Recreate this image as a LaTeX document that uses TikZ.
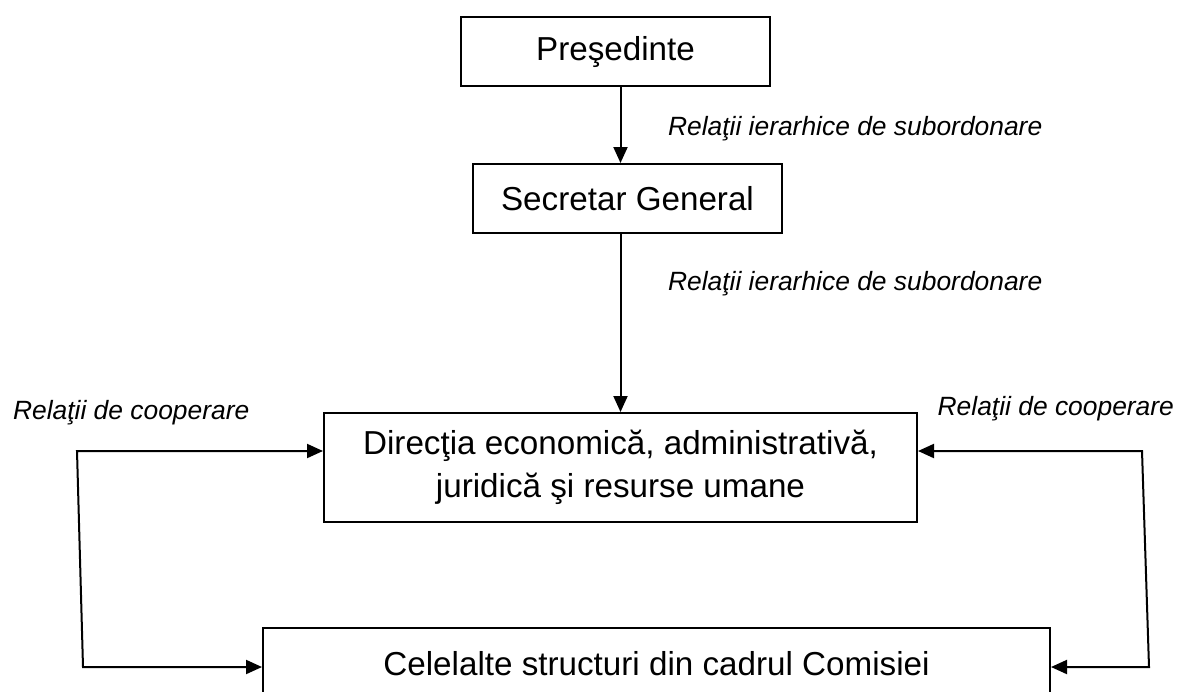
\documentclass[tikz,border=0pt]{standalone}
\usepackage{fontspec}
\setmainfont{Liberation Sans}
\usetikzlibrary{arrows.meta}

\begin{document}
\begin{tikzpicture}[x=0.5pt,y=-0.5pt,
  box/.style={draw, line width=1pt, align=center, inner sep=0pt, font=\fontsize{16.6}{21.5}\selectfont},
  rel/.style={font=\fontsize{13.2}{16}\selectfont\itshape},
  arr/.style={-{Triangle[length=8pt,width=7pt]}, line width=1pt},
  arrs/.style={{Triangle[length=8pt,width=7pt]}-{Triangle[length=8pt,width=7pt]}, line width=1pt}]
\clip (0,0) rectangle (1177,691);

\node[box, minimum width=154.5pt, minimum height=34.5pt] at (615.5,51.5) (pres) {Preşedinte};
\node[box, minimum width=154.5pt, minimum height=34.5pt] at (627.5,198.5) (sec) {Secretar General};
\node[box, minimum width=296.5pt, minimum height=54.5pt] at (620.5,467.5) (dir) {Direcţia economică, administrativă,\\ juridică şi resurse umane};
\node[box, minimum width=393.5pt, minimum height=36pt] at (656.5,664) (cel) {Celelalte structuri din cadrul Comisiei};

% hierarchy
\draw[arr] (pres.south -| dir.north) -- (sec.north -| dir.north);
\draw[arr] (sec.south -| dir.north) -- (dir.north);
\node[rel, anchor=west] at (661,129) (h1) {Relaţii ierarhice de subordonare};
\node[rel, anchor=west] at (661,284) (h2) {Relaţii ierarhice de subordonare};

% cooperation loops
\coordinate (lt) at (77,451);
\coordinate (lb) at (83,667);
\coordinate (rt) at (1142,451);
\coordinate (rb) at (1149,667);
\draw[arrs] (lt -| dir.west) -- (lt) -- (lb) -- (lb -| cel.west);
\draw[arrs] (rt -| dir.east) -- (rt) -- (rb) -- (rb -| cel.east);
\node[rel, anchor=west] at (6,413) (c1) {Relaţii de cooperare};
\node[rel, anchor=east] at (1181,409) (c2) {Relaţii de cooperare};

\end{tikzpicture}
\end{document}
